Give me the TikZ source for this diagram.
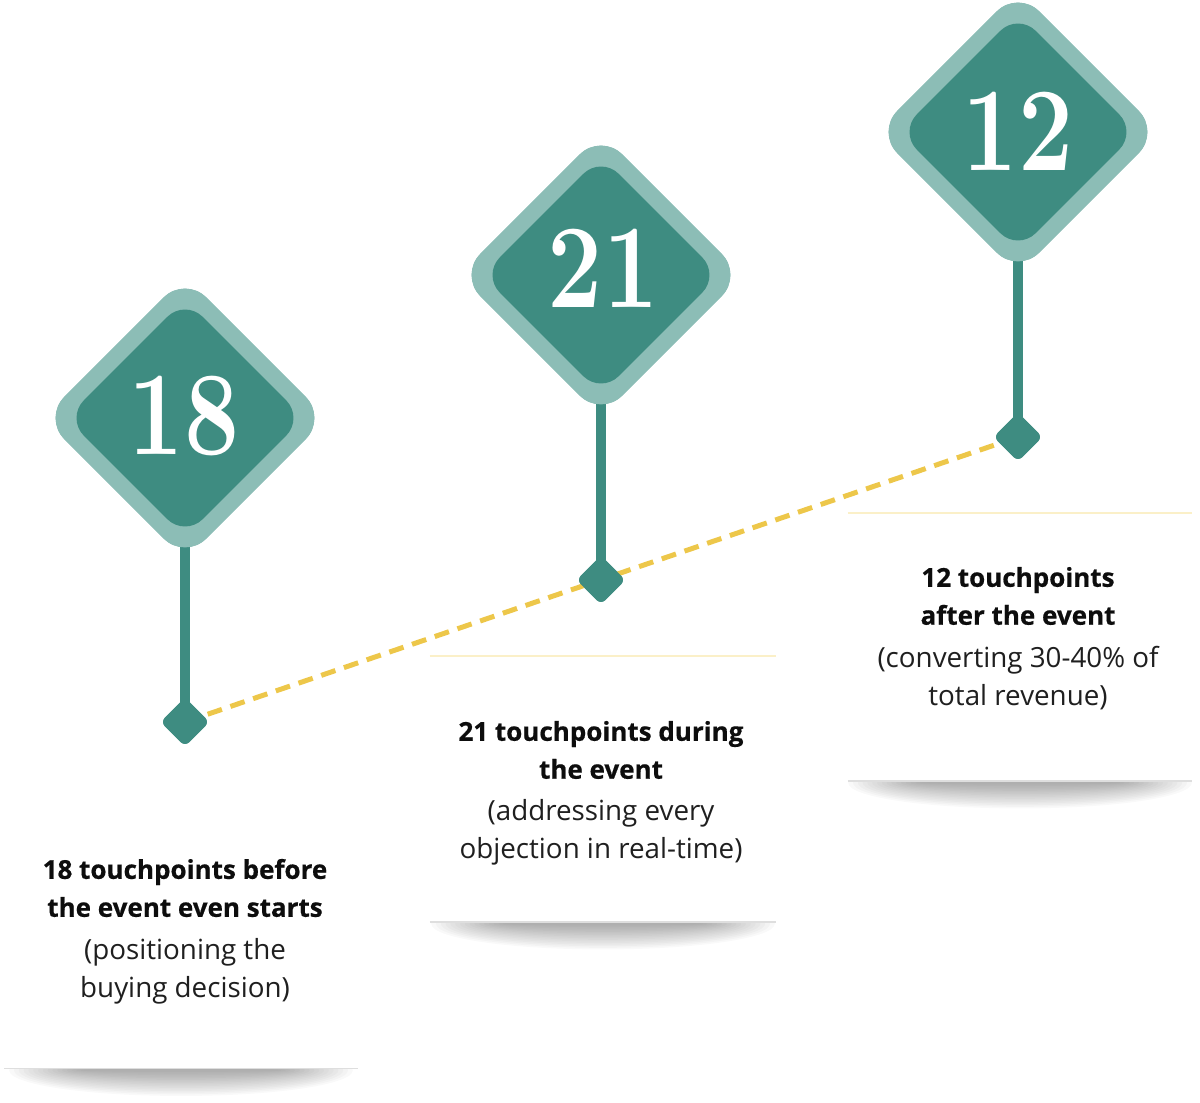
\documentclass[tikz,border=0pt]{standalone}
\usepackage{fontspec}
\newfontfamily\cardfont{Open Sans}[BoldFeatures={FakeBold=0.6}]
\usetikzlibrary{shapes.geometric}
\usetikzlibrary{positioning}

\definecolor{pinlight}{HTML}{8CBDB6}
\definecolor{pindark}{HTML}{3E8C81}
\definecolor{trailyellow}{HTML}{EDC74A}
\definecolor{cardtop}{HTML}{FBF0C8}

\newcommand{\pinnum}[1]{\scalebox{0.82}[1]{\bfseries #1}}

\tikzset{
  pin outer/.style={diamond,aspect=1,inner sep=0pt,fill=pinlight,minimum size=5.68cm,rounded corners=0.6cm},
  pin inner/.style={diamond,aspect=1,inner sep=0pt,fill=pindark,minimum size=4.76cm,rounded corners=0.5cm},
  pin num/.style={inner sep=0pt,text=white,font=\fontsize{68}{68}\selectfont},
  pin dot/.style={diamond,aspect=1,inner sep=0pt,fill=pindark,minimum size=0.98cm,rounded corners=0.12cm},
  stem/.style={draw=pindark,line width=0.2cm},
  trail/.style={draw=trailyellow,line width=0.1cm,dash pattern=on 0.3cm off 0.18cm},
  card/.style={fill=white,inner sep=0pt,rounded corners=0.1cm},
  card edge/.style={draw=black!13,line width=0.03cm},
  card top/.style={draw=cardtop,line width=0.03cm},
  card shadow/.style={fill=black,opacity=0.024},
  card title/.style={font=\cardfont\bfseries\fontsize{14.8}{21.6}\selectfont,align=center,text=black!95},
  card note/.style={font=\cardfont\fontsize{15.8}{21.6}\selectfont,align=center,text=black!88},
}

\begin{document}
\begin{tikzpicture}[x=0.02cm,y=-0.02cm]
\useasboundingbox (0,0) rectangle (1200,1102);

% cards
\node[card,minimum width=7.06cm,minimum height=5.56cm] (card18) at (181,929) {};
\node[card,minimum width=6.92cm,minimum height=5.3cm] (card21) at (603,789) {};
\node[card,minimum width=6.88cm,minimum height=5.34cm] (card12) at (1020,647) {};

% shadows under the cards
\foreach \c in {card18,card21,card12}{
  \begin{scope}
    \clip (\c.south west) rectangle ([yshift=-1.2cm]\c.south east);
    \foreach \i in {1,...,16}
      \path[card shadow] (\c.south) ++(0,2) ellipse ({95+4.8*\i} and {1.6*\i});
  \end{scope}
  \draw[card edge] (\c.south west) -- (\c.south east);
}
\draw[card top] (card21.north west) -- (card21.north east);
\draw[card top] (card12.north west) -- (card12.north east);

% pins
\node[pin outer] (pin18) at (185,418) {};
\node[pin outer] (pin21) at (601,275) {};
\node[pin outer] (pin12) at (1018,132) {};
\node[pin dot] (dot18) at (185,722) {};
\node[pin dot] (dot21) at (601,580) {};
\node[pin dot] (dot12) at (1018,437) {};

\draw[trail] (dot18.center) -- (dot12.center);
\draw[stem] (pin18.center) -- (dot18.center);
\draw[stem] (pin21.center) -- (dot21.center);
\draw[stem] (pin12.center) -- (dot12.center);

\node[pin outer] at (pin18) {};
\node[pin outer] at (pin21) {};
\node[pin outer] at (pin12) {};
\node[pin inner] (in18) at (pin18) {};
\node[pin inner] (in21) at (pin21) {};
\node[pin inner] (in12) at (pin12) {};
\node[pin dot] at (dot18) {};
\node[pin dot] at (dot21) {};
\node[pin dot] at (dot12) {};

\node[pin num] (num18) at (184,416) {\pinnum{18}};
\node[pin num] (num21) at (603,268) {\pinnum{21}};
\node[pin num] (num12) at (1018,131) {\pinnum{12}};

% texts
\node[card title] (title18) at (185,888) {18 touchpoints before\\the event even starts};
\node[card note] (note18) at (185,971) {(positioning the\\buying decision)};
\node[card title] (title21) at (601,750) {21 touchpoints during\\the event};
\node[card note] (note21) at (601,832) {(addressing every\\objection in real-time)};
\node[card title] (title12) at (1018,596) {12 touchpoints\\after the event};
\node[card note] (note12) at (1018,678) {(converting 30-40\% of\\total revenue)};
\end{tikzpicture}
\end{document}
